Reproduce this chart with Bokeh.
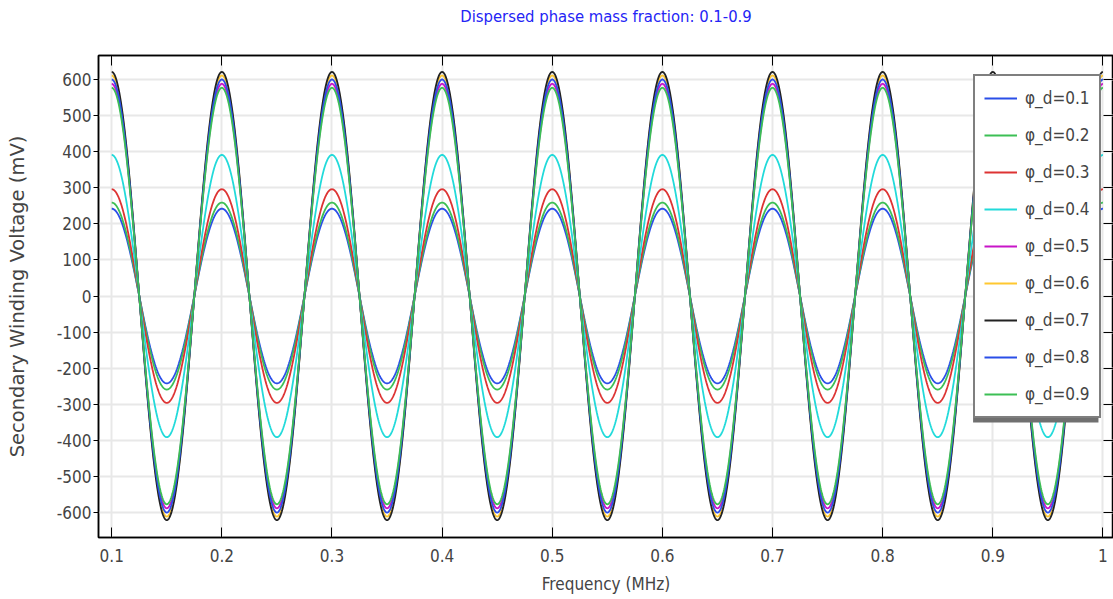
import numpy as np
from bokeh.plotting import figure
from bokeh.models import (Range1d, LinearAxis, Legend, LegendItem, FixedTicker,
                          CustomJSTickFormatter, BoxAnnotation)
from bokeh.embed import file_html
from bokeh.resources import INLINE

# ---- data ----
labels = ["φ_d=0.1", "φ_d=0.2", "φ_d=0.3", "φ_d=0.4", "φ_d=0.5",
          "φ_d=0.6", "φ_d=0.7", "φ_d=0.8", "φ_d=0.9"]
colors = ["#2a4ee8", "#3cbf55", "#dd3333", "#22dada", "#c815c8",
          "#ffc830", "#222222", "#2a4ee8", "#3cbf55"]
amplitudes_mV = [242, 259, 296, 391, 588, 611, 621, 600, 577]   # peak voltages (mV)
period_MHz = 0.1                                                  # peak-to-peak spacing
f_start, f_end = 0.1, 1.0
x_ticks = [0.1, 0.2, 0.3, 0.4, 0.5, 0.6, 0.7, 0.8, 0.9, 1.0]
x_tick_labels = ["0.1", "0.2", "0.3", "0.4", "0.5", "0.6", "0.7", "0.8", "0.9", "1"]
y_ticks = [-600, -500, -400, -300, -200, -100, 0, 100, 200, 300, 400, 500, 600]
title_text = "Dispersed phase mass fraction: 0.1-0.9"

FONT = "DejaVu Sans Condensed"
X0, X1 = 0.088, 1.0096
Y0, Y1 = -669, 666.5

p = figure(width=1113, height=599, output_backend="svg", toolbar_location=None,
           x_range=Range1d(X0, X1), y_range=Range1d(Y0, Y1),
           min_border_left=98, min_border_right=0, min_border_top=55,
           min_border_bottom=62, title=title_text)
p.background_fill_color = "white"
p.border_fill_color = "white"
p.outline_line_color = "black"
p.outline_line_width = 1.5

p.title.align = "center"
p.title.text_color = "#2424f5"
p.title.text_font = FONT
p.title.text_font_size = "16.5px"
p.title.text_font_style = "normal"
p.title.standoff = 0

f = np.linspace(f_start, f_end, 1801)
renderers = []
for lab, col, amp in zip(labels, colors, amplitudes_mV):
    v = amp * np.cos(2 * np.pi * (f - f_start) / period_MHz)
    r = p.line(f, v, line_color=col, line_width=1.8)
    renderers.append(r)

# axes styling
xa = p.xaxis[0]
xa.ticker = FixedTicker(ticks=x_ticks)
xa.major_label_overrides = {t: s for t, s in zip(x_ticks, x_tick_labels)}
xa.major_tick_in = 10
xa.major_tick_out = 0
xa.minor_tick_line_color = None
xa.axis_label = "Frequency (MHz)"
xa.axis_label_text_font = FONT
xa.axis_label_text_font_size = "17px"
xa.axis_label_text_font_style = "normal"
xa.axis_label_standoff = 9
xa.major_label_text_font = FONT
xa.major_label_text_font_size = "17px"
xa.major_label_standoff = 11
xa.axis_line_color = "black"
xa.axis_line_width = 1.5

ya = p.yaxis[0]
ya.ticker = FixedTicker(ticks=y_ticks)
ya.formatter = CustomJSTickFormatter(code="return String(Math.round(tick))")
ya.major_tick_in = 0
ya.major_tick_out = 5
ya.minor_tick_line_color = None
ya.axis_label = "Secondary Winding Voltage (mV)"
ya.axis_label_text_font = "DejaVu Sans"
ya.axis_label_text_font_size = "19.5px"
ya.axis_label_text_font_style = "normal"
ya.axis_label_standoff = 25
ya.major_label_text_font = FONT
ya.major_label_text_font_size = "17px"
ya.major_label_standoff = 2
ya.axis_line_color = "black"
ya.axis_line_width = 1.5

blank = CustomJSTickFormatter(code="return ''")
top = LinearAxis(ticker=FixedTicker(ticks=x_ticks), formatter=blank,
                 major_tick_in=10, major_tick_out=0, minor_tick_line_color=None,
                 major_label_standoff=0, axis_line_width=1.5)
p.add_layout(top, "above")
# invisible spacer axis that lifts the title away from the frame
spacer = LinearAxis(ticker=FixedTicker(ticks=x_ticks), formatter=blank,
                    major_tick_in=0, major_tick_out=30, major_tick_line_alpha=0,
                    minor_tick_line_color=None, axis_line_alpha=0,
                    major_label_standoff=0)
p.add_layout(spacer, "above")
right = LinearAxis(ticker=FixedTicker(ticks=y_ticks), formatter=blank,
                   major_tick_in=10, major_tick_out=0, minor_tick_line_color=None,
                   major_label_standoff=0, axis_line_width=1.5)
p.add_layout(right, "right")

p.xgrid.ticker = FixedTicker(ticks=x_ticks)
p.ygrid.ticker = FixedTicker(ticks=y_ticks)
p.grid.grid_line_color = "#e8e8e8"
p.grid.grid_line_width = 2

# pixel -> data helpers for the legend shadow (frame 98..1110 x 55..537)
fl, fr, ft, fb = 98, 1110, 55, 537
def px_x(px):
    return X0 + (px - fl) / (fr - fl) * (X1 - X0)
def px_y(py):
    return Y1 - (py - ft) / (fb - ft) * (Y1 - Y0)

shadow = BoxAnnotation(left=px_x(970), right=px_x(1095), top=px_y(80), bottom=px_y(422),
                       fill_color="#707070", fill_alpha=1.0, line_color=None)
p.add_layout(shadow)

legend = Legend(items=[LegendItem(label=l, renderers=[r]) for l, r in zip(labels, renderers)],
                location=(875, 119), orientation="vertical",
                label_text_font=FONT, label_text_font_size="17px",
                label_standoff=8, glyph_width=33, glyph_height=26, label_height=26,
                spacing=11, padding=9, margin=0,
                border_line_color="black", border_line_width=2,
                background_fill_color="white", background_fill_alpha=1.0)
p.add_layout(legend, "center")

open("out.html", "w").write(file_html(p, INLINE))
